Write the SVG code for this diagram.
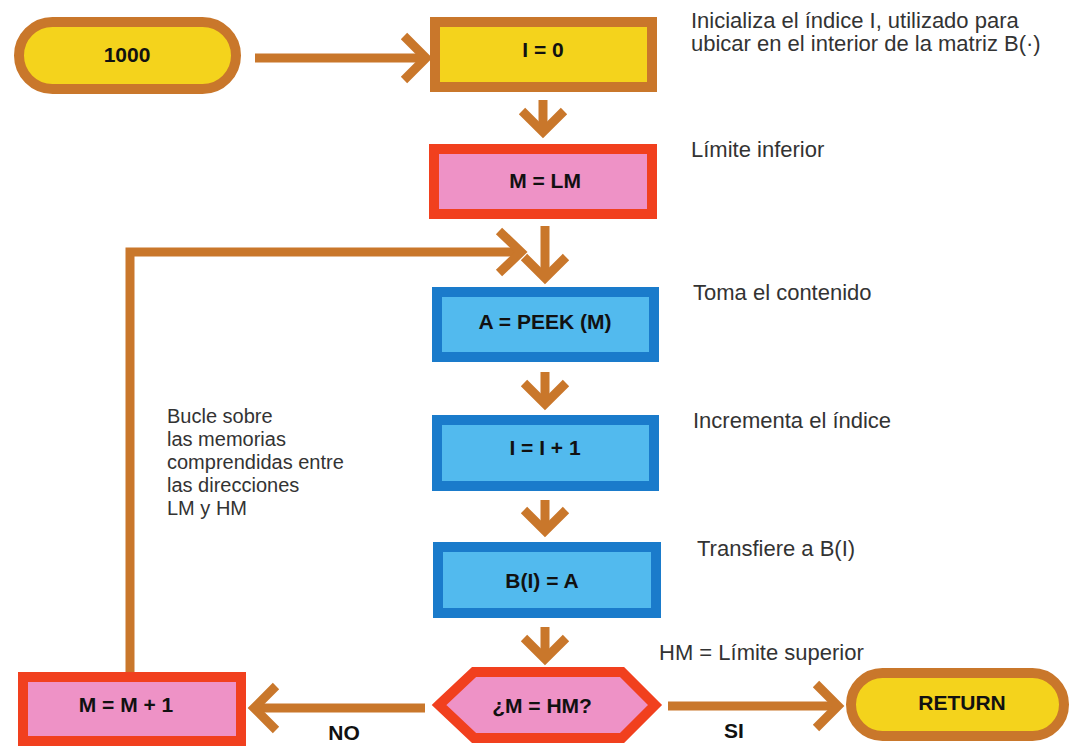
<svg xmlns="http://www.w3.org/2000/svg" width="1070" height="746" viewBox="0 0 1070 746">
<style>
.conn{fill:none;stroke:#c9772b;stroke-width:9;stroke-linejoin:miter;stroke-linecap:butt}
.term{fill:#f4d31c;stroke:#c9772b;stroke-width:10}
.ybox{fill:#f4d31c;stroke:#c9772b;stroke-width:10}
.pbox{fill:#ee92c6;stroke:#f1401e;stroke-width:10}
.bbox{fill:#52baee;stroke:#1a7bcb;stroke-width:10}
.lbl{font-family:"Liberation Sans",Arial,sans-serif;font-weight:bold;font-size:21px;fill:#111;text-anchor:middle}
.note{font-family:"Liberation Sans",Arial,sans-serif;font-size:22px;fill:#333}
.loop{font-family:"Liberation Sans",Arial,sans-serif;font-size:20px;fill:#333}
</style>
<rect width="1070" height="746" fill="#ffffff"/>
<g id="connectors">
  <path class="conn" d="M255 58 H426"/>
  <path class="conn" d="M404 36 L426 58 L404 80"/>
  <path class="conn" d="M543 100 V132"/>
  <path class="conn" d="M522 111 L543 132 L564 111"/>
  <path class="conn" d="M545 226 V278"/>
  <path class="conn" d="M524 257 L545 278 L566 257"/>
  <path class="conn" d="M130 672 V252 H521"/>
  <path class="conn" d="M499 231 L521 252 L499 273"/>
  <path class="conn" d="M545 372 V404"/>
  <path class="conn" d="M524 383 L545 404 L566 383"/>
  <path class="conn" d="M545 500 V531"/>
  <path class="conn" d="M524 510 L545 531 L566 510"/>
  <path class="conn" d="M545 627 V659"/>
  <path class="conn" d="M524 638 L545 659 L566 638"/>
  <path class="conn" d="M425 708 H254"/>
  <path class="conn" d="M276 686 L254 708 L276 730"/>
  <path class="conn" d="M668 706 H838"/>
  <path class="conn" d="M816 684 L838 706 L816 728"/>
</g>
<g id="n1000">
  <rect class="term" x="19" y="22" width="217" height="67" rx="33.5"/>
  <text class="lbl" x="127" y="62">1000</text>
</g>
<g id="nI0">
  <rect class="ybox" x="435" y="22" width="217" height="65"/>
  <text class="lbl" x="543" y="57">I = 0</text>
</g>
<g id="nMLM">
  <rect class="pbox" x="434" y="149" width="218" height="65"/>
  <text class="lbl" x="545" y="188">M = LM</text>
</g>
<g id="nPEEK">
  <rect class="bbox" x="437" y="292" width="217" height="65"/>
  <text class="lbl" x="545" y="329">A = PEEK (M)</text>
</g>
<g id="nInc">
  <rect class="bbox" x="437" y="420" width="217" height="66"/>
  <text class="lbl" x="545" y="455">I = I + 1</text>
</g>
<g id="nBI">
  <rect class="bbox" x="438" y="547" width="218" height="66"/>
  <text class="lbl" x="542" y="588">B(I) = A</text>
</g>
<g id="nDec">
  <polygon class="pbox" points="439,705 474,672 622,672 655,705 622,738 474,738"/>
  <text class="lbl" x="542" y="713">¿M = HM?</text>
</g>
<g id="nMM1">
  <rect class="pbox" x="23" y="677" width="218" height="64"/>
  <text class="lbl" x="126" y="712">M = M + 1</text>
</g>
<g id="nReturn">
  <rect class="term" x="851" y="673" width="213" height="63" rx="31.5"/>
  <text class="lbl" x="962" y="710">RETURN</text>
</g>
<g id="labels">
  <text class="lbl" x="344" y="740">NO</text>
  <text class="lbl" x="734" y="738">SI</text>
</g>
<g id="notes">
  <text class="note" x="691" y="28">Inicializa el índice I, utilizado para</text>
  <text class="note" x="691" y="51">ubicar en el interior de la matriz B(·)</text>
  <text class="note" x="691" y="157">Límite inferior</text>
  <text class="note" x="693" y="300">Toma el contenido</text>
  <text class="note" x="693" y="428">Incrementa el índice</text>
  <text class="note" x="697" y="556">Transfiere a B(I)</text>
  <text class="note" x="659" y="660">HM = Límite superior</text>
  <text class="loop" x="167" y="423">Bucle sobre</text>
  <text class="loop" x="167" y="446">las memorias</text>
  <text class="loop" x="167" y="469">comprendidas entre</text>
  <text class="loop" x="167" y="492">las direcciones</text>
  <text class="loop" x="167" y="515">LM y HM</text>
</g>
</svg>
